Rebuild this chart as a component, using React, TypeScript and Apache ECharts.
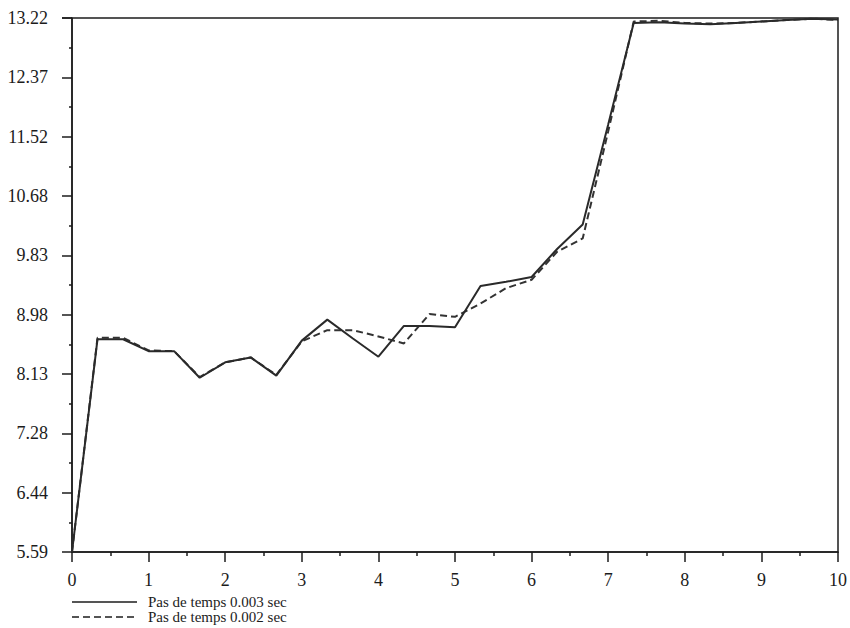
import React, { useEffect, useRef } from "react";
import * as echarts from "echarts";

const times = [
  0, 0.333, 0.667, 1, 1.333, 1.667, 2, 2.333, 2.667, 3, 3.333, 3.667, 4, 4.333, 4.667, 5,
  5.333, 5.667, 6, 6.333, 6.667, 7, 7.333, 7.667, 8, 8.333, 8.667, 9, 9.333, 9.667, 10,
];
const step003 = [
  5.59, 8.63, 8.63, 8.46, 8.46, 8.08, 8.3, 8.37, 8.11, 8.61, 8.91, 8.64, 8.38, 8.82, 8.82, 8.8,
  9.39, 9.45, 9.52, 9.92, 10.27, 11.7, 13.15, 13.16, 13.14, 13.13, 13.15, 13.17, 13.19, 13.21, 13.2,
];
const step002 = [
  5.59, 8.65, 8.65, 8.47, 8.46, 8.09, 8.3, 8.37, 8.12, 8.6, 8.76, 8.76, 8.67, 8.57, 8.99, 8.95,
  9.14, 9.36, 9.48, 9.88, 10.07, 11.6, 13.17, 13.18, 13.15, 13.14, 13.15, 13.17, 13.19, 13.21, 13.19,
];
const seriesNames = ["Pas de temps 0.003 sec", "Pas de temps 0.002 sec"];
const yTickLabels = ["5.59", "6.44", "7.28", "8.13", "8.98", "9.83", "10.68", "11.52", "12.37", "13.22"];
const xTickLabels = ["0", "1", "2", "3", "4", "5", "6", "7", "8", "9", "10"];

const Y_MIN = 5.59;
const Y_MAX = 13.22;
const Y_INTERVAL = (Y_MAX - Y_MIN) / (yTickLabels.length - 1);

export default function App() {
  const ref = useRef<HTMLDivElement>(null);
  useEffect(() => {
    if (!ref.current) return;
    const chart = echarts.init(ref.current, null, { renderer: "svg" });
    const ink = "#1c1c1c";
    const font = "Liberation Serif";
    const dash = [7, 4];
    const legendText = (i: number, y: number) => ({
      type: "text",
      x: 148,
      y,
      style: {
        text: seriesNames[i],
        fontFamily: font,
        fontSize: 15,
        fill: ink,
        verticalAlign: "middle",
      },
    });
    chart.setOption({
      animation: false,
      backgroundColor: "#ffffff",
      textStyle: { fontFamily: font },
      grid: {
        left: 72,
        right: 8,
        top: 18,
        bottom: 76,
        show: true,
        borderColor: ink,
        borderWidth: 1.5,
        backgroundColor: "transparent",
      },
      graphic: [
        {
          type: "line",
          shape: { x1: 72, y1: 602, x2: 137, y2: 602 },
          style: { stroke: ink, lineWidth: 1.5 },
        },
        legendText(0, 602),
        {
          type: "line",
          shape: { x1: 72, y1: 617, x2: 137, y2: 617 },
          style: { stroke: ink, lineWidth: 1.5, lineDash: dash },
        },
        legendText(1, 617),
      ],
      xAxis: {
        type: "value",
        min: 0,
        max: 10,
        interval: 1,
        axisLine: { show: true, lineStyle: { color: ink, width: 1.5 } },
        axisTick: { show: true, length: 10, lineStyle: { color: ink, width: 1.5 } },
        minorTick: { show: true, splitNumber: 2, length: 4, lineStyle: { color: ink, width: 1.5 } },
        splitLine: { show: false },
        axisLabel: {
          margin: 19,
          fontFamily: font,
          fontSize: 18,
          color: ink,
          formatter: (v: number) => xTickLabels[Math.round(v)] ?? "",
        },
      },
      yAxis: {
        type: "value",
        min: Y_MIN,
        max: Y_MAX,
        interval: Y_INTERVAL,
        axisLine: { show: true, lineStyle: { color: ink, width: 1.5 } },
        axisTick: { show: true, length: 10, lineStyle: { color: ink, width: 1.5 } },
        minorTick: { show: true, splitNumber: 2, length: 3, lineStyle: { color: ink, width: 1.5 } },
        splitLine: { show: false },
        axisLabel: {
          margin: 24,
          fontFamily: font,
          fontSize: 18,
          color: ink,
          formatter: (v: number) => yTickLabels[Math.round((v - Y_MIN) / Y_INTERVAL)] ?? "",
        },
      },
      series: [
        {
          name: seriesNames[0],
          type: "line",
          symbol: "none",
          data: times.map((t, i) => [t, step003[i]]),
          lineStyle: { color: "#2a2a2a", width: 2 },
          itemStyle: { color: "#2a2a2a" },
          z: 3,
        },
        {
          name: seriesNames[1],
          type: "line",
          symbol: "none",
          data: times.map((t, i) => [t, step002[i]]),
          lineStyle: { color: "#333", width: 2, type: dash },
          itemStyle: { color: "#333" },
          z: 2,
        },
      ],
    });
    return () => chart.dispose();
  }, []);
  return (
    <div
      ref={ref}
      style={{ position: "fixed", left: 0, top: 0, width: 850, height: 628, background: "#fff" }}
    />
  );
}
